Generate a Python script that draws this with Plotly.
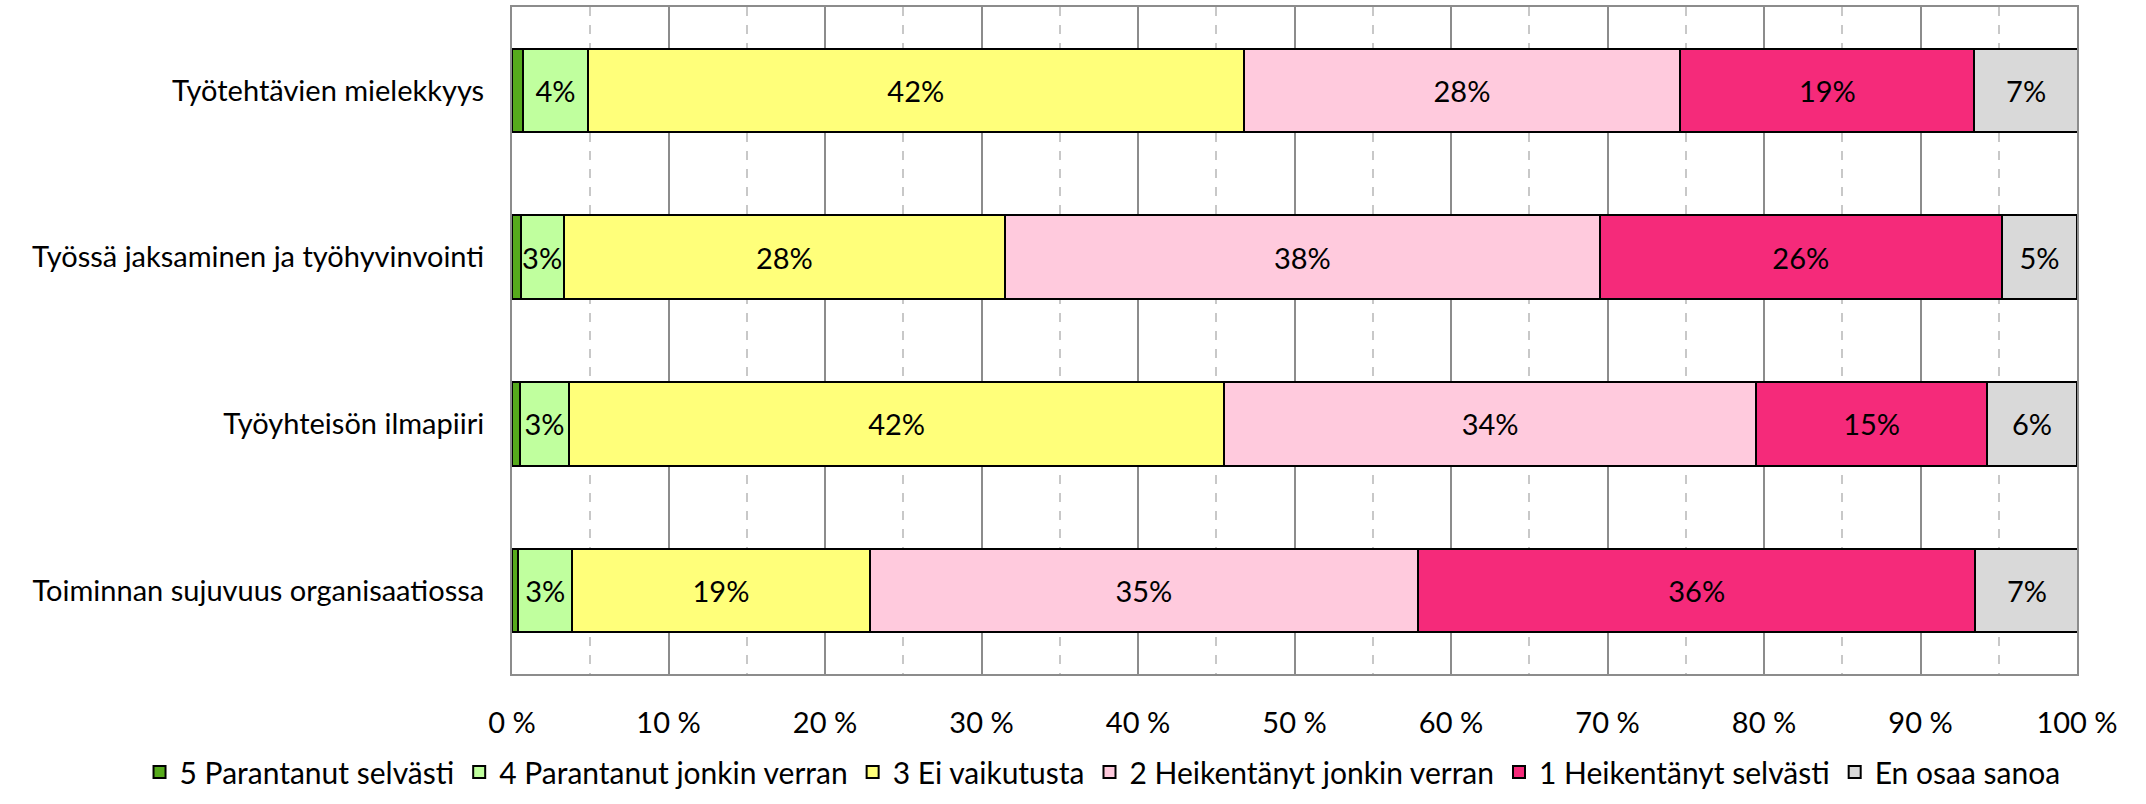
import plotly.graph_objects as go

categories = [
    "Työtehtävien mielekkyys",
    "Työssä jaksaminen ja työhyvinvointi",
    "Työyhteisön ilmapiiri",
    "Toiminnan sujuvuus organisaatiossa",
]

series_names = [
    "5 Parantanut selvästi",
    "4 Parantanut jonkin verran",
    "3 Ei vaikutusta",
    "2 Heikentänyt jonkin verran",
    "1 Heikentänyt selvästi",
    "En osaa sanoa",
]

parantanut_selvasti = [0.7, 0.55, 0.5, 0.4]
parantanut_jonkin = [4.15, 2.75, 3.15, 3.45]
ei_vaikutusta = [41.9, 28.2, 41.85, 19.0]
heikentanyt_jonkin = [27.9, 38.0, 34.0, 35.05]
heikentanyt_selvasti = [18.8, 25.7, 14.75, 35.6]
en_osaa_sanoa = [6.6, 4.8, 5.75, 6.6]

tick_vals = [0, 10, 20, 30, 40, 50, 60, 70, 80, 90, 100]

values = [
    parantanut_selvasti,
    parantanut_jonkin,
    ei_vaikutusta,
    heikentanyt_jonkin,
    heikentanyt_selvasti,
    en_osaa_sanoa,
]
colors = ["#56AA1C", "#C0FF9E", "#FFFF7A", "#FFCADD", "#F52A7A", "#D9D9D9"]

FONT = "Lato, 'Open Sans', sans-serif"
SIZE = 29

fig = go.Figure()
for i, (name, vals, col) in enumerate(zip(series_names, values, colors)):
    fig.add_trace(go.Bar(
        y=categories,
        x=vals,
        name=name,
        orientation="h",
        marker=dict(color=col, line=dict(color="black", width=2)),
        width=0.5,
        texttemplate=None if i == 0 else "%{x:.0f}%",
        textposition="none" if i == 0 else "inside",
        insidetextanchor="middle",
        constraintext="none",
        textangle=0,
        textfont=dict(color="black", size=SIZE, family=FONT),
        hovertemplate="%{y}<br>" + name + ": %{x:.1f}%<extra></extra>",
    ))

fig.update_layout(
    barmode="stack",
    width=2146,
    height=804,
    paper_bgcolor="white",
    plot_bgcolor="white",
    font=dict(family=FONT, size=SIZE, color="black"),
    margin=dict(l=512, r=69, t=7, b=130, autoexpand=False),
    showlegend=True,
    legend=dict(
        orientation="h",
        x=-0.238, xanchor="left",
        y=-0.186, yanchor="bottom",
        font=dict(size=30),
        traceorder="normal",
        itemwidth=30,
        tracegroupgap=0,
    ),
)

fig.update_xaxes(
    range=[0, 100],
    tickvals=tick_vals,
    ticktext=[f"{v} %" for v in tick_vals],
    showgrid=True,
    gridcolor="#8C8C8C",
    gridwidth=1.5,
    minor=dict(dtick=5, tick0=0, showgrid=True, gridcolor="#C8C8C8",
               griddash="dash", gridwidth=1.5),
    showline=True,
    linecolor="#8C8C8C",
    linewidth=2,
    mirror=True,
    zeroline=False,
    ticks="",
    ticklabelstandoff=22,
    tickfont=dict(size=SIZE),
    automargin=False,
)

fig.update_yaxes(
    autorange="reversed",
    showline=True,
    linecolor="#8C8C8C",
    linewidth=2,
    mirror=True,
    showgrid=False,
    ticks="",
    ticklabelstandoff=20,
    tickfont=dict(size=SIZE),
    automargin=False,
)

# the page's default body margin would shift the figure by 8px
fig.write_html(
    "out.html",
    config={"displayModeBar": False},
    post_script="document.body.style.margin = '0';",
)
